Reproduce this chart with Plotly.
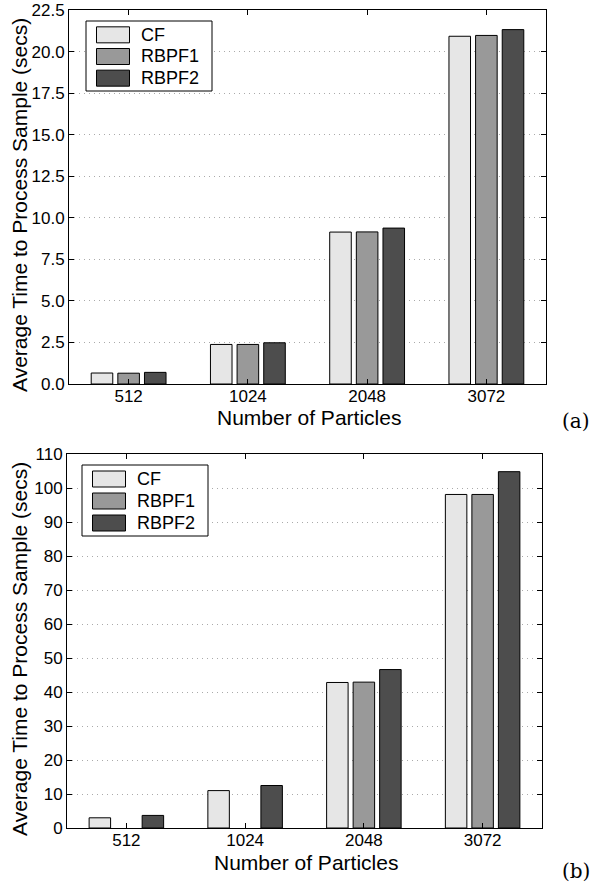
import plotly.graph_objects as go

W, H = 592, 882

categories = ["512", "1024", "2048", "3072"]
series_names = ["CF", "RBPF1", "RBPF2"]
series_colors = ["#e6e6e6", "#999999", "#4d4d4d"]

# panel (a)
a_cf = [0.66, 2.38, 9.14, 20.92]
a_rbpf1 = [0.65, 2.38, 9.15, 20.97]
a_rbpf2 = [0.70, 2.48, 9.38, 21.32]
a_ticks = [0, 2.5, 5, 7.5, 10, 12.5, 15, 17.5, 20, 22.5]

# panel (b)
b_cf = [3.0, 11.0, 42.8, 98.1]
b_rbpf1 = [None, None, 42.9, 98.1]
b_rbpf2 = [3.7, 12.5, 46.6, 104.8]
b_ticks = [0, 10, 20, 30, 40, 50, 60, 70, 80, 90, 100, 110]

FONT = "Liberation Sans, Arial, Helvetica, sans-serif"


def px(x):
    return x / W


def py(y):
    return 1 - y / H


fig = go.Figure()

panels = [
    dict(data=[a_cf, a_rbpf1, a_rbpf2], box=(69, 546, 10, 384),
         ticks=a_ticks, fmt=".1f", rng=[0, 22.5], legend=(86, 212, 21, 91), label="(a)", label_y=421),
    dict(data=[b_cf, b_rbpf1, b_rbpf2], box=(67, 542, 454, 828),
         ticks=b_ticks, fmt="d", rng=[0, 110], legend=(82, 208, 465, 536), label="(b)", label_y=871),
]

for pi, p in enumerate(panels):
    suffix = "" if pi == 0 else "2"
    for name, vals, col in zip(series_names, p["data"], series_colors):
        fig.add_trace(go.Bar(
            x=categories, y=vals, name=name, xaxis="x" + suffix, yaxis="y" + suffix,
            marker=dict(color=col, line=dict(color="black", width=1)),
            showlegend=False,
        ))

    x0, x1, y0, y1 = p["box"]
    axis_common = dict(
        showline=True, linecolor="black", linewidth=1, mirror="ticks",
        ticks="inside", ticklen=5, tickcolor="black", automargin=False,
        ticklabeloverflow="allow",
        tickfont=dict(family=FONT, size=17, color="black"),
    )
    fig.update_layout(**{
        "xaxis" + suffix: dict(
            domain=[px(x0), px(x1)], anchor="y" + suffix, type="category",
            showgrid=False, ticklabelstandoff=-3, **axis_common),
        "yaxis" + suffix: dict(
            domain=[py(y1), py(y0)], anchor="x" + suffix, range=p["rng"],
            tickvals=p["ticks"], tickformat=p["fmt"], zeroline=False,
            showgrid=True, gridcolor="#aaaaaa", griddash="1px,4px", gridwidth=1,
            **axis_common),
    })

    # axis titles
    fig.add_annotation(text="Number of Particles", x=px((x0 + x1) / 2 + 1), y=py(y1 + 34),
                       xref="paper", yref="paper", showarrow=False,
                       font=dict(family=FONT, size=21, color="black"),
                       xanchor="center", yanchor="middle")
    fig.add_annotation(text="Average Time to Process Sample (secs)", x=px(19),
                       y=py((y0 + y1) / 2 + 8), xref="paper", yref="paper",
                       showarrow=False, textangle=-90,
                       font=dict(family=FONT, size=21, color="black"),
                       xanchor="center", yanchor="middle")
    # panel label
    fig.add_annotation(text=p["label"], x=px(576), y=py(p["label_y"]),
                       xref="paper", yref="paper", showarrow=False,
                       font=dict(family="DejaVu Serif, Liberation Serif, serif", size=20, color="black"),
                       xanchor="center", yanchor="middle")

    # legend (drawn manually to mimic large swatches)
    lx0, lx1, ly0, ly1 = p["legend"]
    fig.add_shape(type="rect", xref="paper", yref="paper",
                  x0=px(lx0), x1=px(lx1), y0=py(ly1), y1=py(ly0),
                  line=dict(color="black", width=1), fillcolor="white", layer="above")
    row_h = (ly1 - ly0 - 5) / 3
    for i, (name, col) in enumerate(zip(series_names, series_colors)):
        cy = ly0 + 3 + row_h * (i + 0.5)
        fig.add_shape(type="rect", xref="paper", yref="paper",
                      x0=px(lx0 + 10.5), x1=px(lx0 + 43.5), y0=py(cy + 8), y1=py(cy - 8),
                      line=dict(color="black", width=1), fillcolor=col, layer="above")
        fig.add_annotation(text=name, x=px(lx0 + 53), y=py(cy), xref="paper", yref="paper",
                           showarrow=False, xanchor="left", yanchor="middle",
                           font=dict(family=FONT, size=18, color="black"))

fig.update_layout(
    template="none",
    width=W, height=H, margin=dict(l=0, r=0, t=0, b=0, pad=0, autoexpand=False),
    paper_bgcolor="white", plot_bgcolor="white",
    barmode="group", bargap=0.33, bargroupgap=0.19,
    showlegend=False,
)

# remove the browser's default 8px page margin so the figure fills the window exactly
fig.write_html("out.html", config={"displayModeBar": False},
               post_script="document.body.style.margin='0';document.body.style.overflow='hidden';")
